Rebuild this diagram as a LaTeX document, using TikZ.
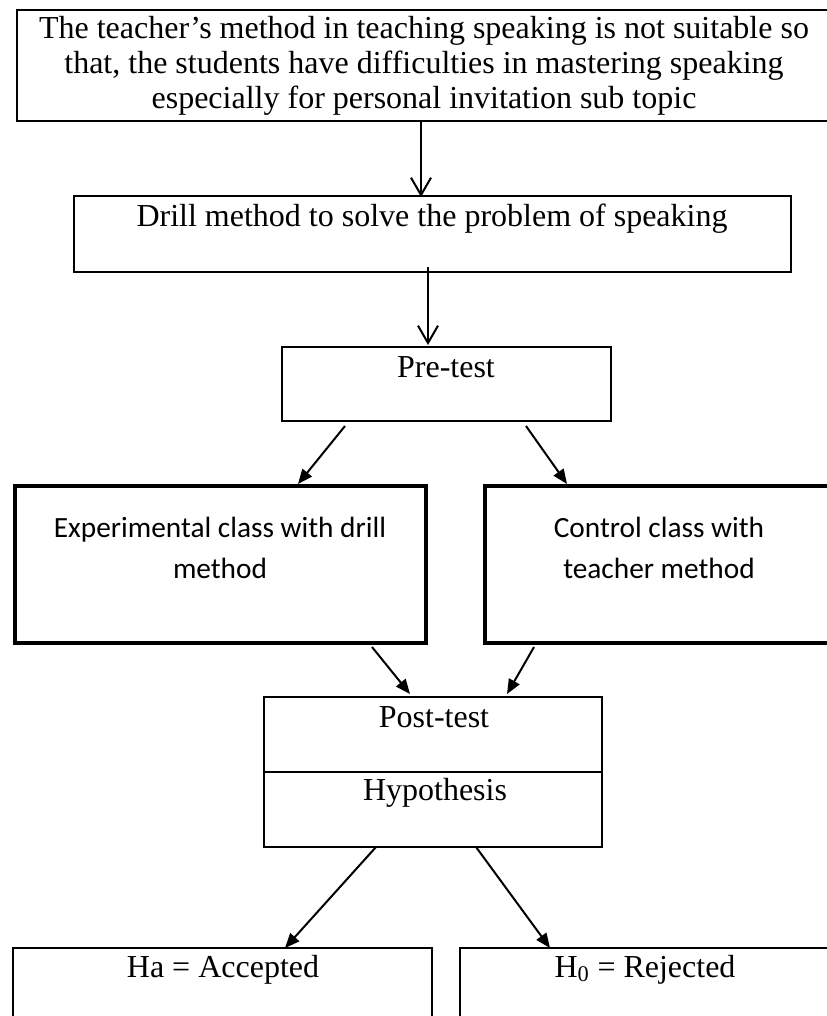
\documentclass[tikz,border=0pt]{standalone}
\usepackage{fontspec}
\setmainfont{Liberation Serif}
\newfontfamily\calibrifont{Carlito}
\usetikzlibrary{arrows.meta,positioning,fit,calc}

\tikzset{
  box/.style={draw, line width=1.5pt, inner sep=0pt, outer sep=0pt},
  thickbox/.style={box, line width=3.4pt},
  serif/.style={font=\fontsize{24}{26.25}\selectfont, inner sep=0pt, align=center},
  sans/.style={font=\calibrifont\fontsize{22}{30.75}\selectfont, inner sep=0pt, align=center},
  link/.style={line width=1.5pt, -{Triangle[length=11pt,width=9pt]}},
  openlink/.style={line width=1.5pt, -{Straight Barb[length=13pt,width=15pt]}}
}

\begin{document}
\begin{tikzpicture}[x=0.75pt, y=-0.75pt]
  \useasboundingbox (0,0) rectangle (827,1016);
  \begin{scope}
  \clip (0,0) rectangle (827,1016);
  % boxes
  \node[box, fit={(17,10) (840,121)}] (problem) {};
  \node[box, fit={(74,196) (791,272)}] (drill) {};
  \node[box, fit={(282,347) (611,421)}] (pretest) {};
  \node[thickbox, fit={(15,486) (426,643)}] (experiment) {};
  \node[thickbox, fit={(485,486) (845,643)}] (control) {};
  \node[box, fit={(264,697) (602,847)}] (posttest) {};
  \node[box, fit={(13,948) (432,1030)}] (accepted) {};
  \node[box, fit={(460,948) (845,1030)}] (rejected) {};
  \draw[line width=1.5pt] ([shift={(0,75)}]posttest.north west) -- ([shift={(0,75)}]posttest.north east);
  % texts
  \node[serif, anchor=south] at (424,116) {The teacher’s method in teaching speaking is not suitable so\\that, the students have difficulties in mastering speaking\\especially for personal invitation sub topic};
  \node[serif, anchor=base] at (432,227) {Drill method to solve the problem of speaking};
  \node[serif, anchor=base] at (446,377) {Pre-test};
  \node[sans, anchor=south] at (220,579) {Experimental class with drill\\method};
  \node[sans, anchor=south] at (659,579) {Control class with\\teacher method};
  \node[serif, anchor=base] at (434,727) {Post-test};
  \node[serif, anchor=base] at (435,800) {Hypothesis};
  \node[serif, anchor=base] at (223,977) {Ha = Accepted};
  \node[serif, anchor=base] at (645,977) {H\textsubscript{0} = Rejected};
  % connectors
  \draw[openlink] ([shift={(404,0)}]problem.south west) -- ([shift={(347,1)}]drill.north west);
  \draw[openlink] ([shift={(354,-5)}]drill.south west) -- ([shift={(146,-2)}]pretest.north west);
  \draw[link] ([shift={(63,5)}]pretest.south west) -- ([shift={(283,-2)}]experiment.north west);
  \draw[link] ([shift={(244,5)}]pretest.south west) -- ([shift={(82,-2)}]control.north west);
  \draw[link] ([shift={(357,4)}]experiment.south west) -- ([shift={(146,-3)}]posttest.north west);
  \draw[link] ([shift={(49,4)}]control.south west) -- ([shift={(243,-3)}]posttest.north west);
  \draw[link] ([shift={(112,0)}]posttest.south west) -- ([shift={(272,0)}]accepted.north west);
  \draw[link] ([shift={(212,0)}]posttest.south west) -- ([shift={(90,0)}]rejected.north west);
  \end{scope}
\end{tikzpicture}
\end{document}
